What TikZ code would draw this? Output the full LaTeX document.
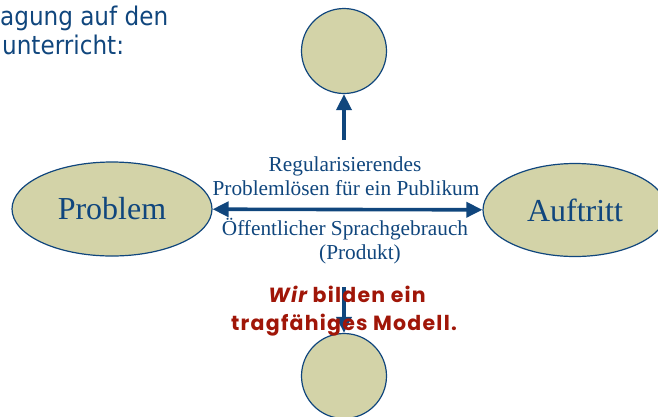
\documentclass[tikz,border=0pt]{standalone}
\usepackage{fontspec}
\setmainfont{Liberation Serif}
\newfontfamily\titelfont{DejaVu Sans Condensed}
\newfontfamily\handfont[LetterSpace=6]{Poppins}
\usetikzlibrary{shapes.geometric, arrows.meta, positioning, calc}
\definecolor{dunkelblau}{RGB}{16,70,125}
\definecolor{oliv}{RGB}{211,211,168}
\definecolor{rotbraun}{RGB}{160,22,8}

\begin{document}
\begin{tikzpicture}[x=1bp, y=-1bp,
  >={Triangle[length=16bp,width=15bp]},
  blob/.style={ellipse, draw=dunkelblau, line width=1.2bp, fill=oliv, text=dunkelblau, inner sep=0pt, font=\fontsize{32bp}{36bp}\selectfont},
  kreis/.style={circle, draw=dunkelblau, line width=1.2bp, fill=oliv, minimum size=85bp, inner sep=0pt},
  pfeil/.style={line width=3.6bp, dunkelblau},
  zeile/.style={anchor=base, inner sep=0pt, text=dunkelblau, font=\fontsize{21.3bp}{24bp}\selectfont},
  titel/.style={anchor=base west, inner sep=0pt, text=dunkelblau, font=\titelfont\fontsize{25.7bp}{28bp}\selectfont},
  merke/.style={anchor=base, inner sep=0pt, text=rotbraun, font=\handfont\bfseries\fontsize{20.5bp}{24bp}\selectfont}]
\useasboundingbox (0,0) rectangle (658,416);

% Ueberschrift (angeschnitten)
\node[titel] (t1) at (0,25) {agung auf den};
\node[titel] (t2) at (2,54) {unterricht:};

% Knoten
\node[blob, minimum width=200bp, minimum height=94bp] (prob) at (112,209) {Problem};
\node[blob, minimum width=184bp, minimum height=93bp] (auf) at (575,210) {Auftritt};
\node[kreis] (oben) at (344,51) {};
\node[kreis] (unten) at (344,376) {};

% Pfeile
\coordinate (o0) at (344,140);
\coordinate (u0) at (344,287);
\draw[pfeil, <->] (prob) -- (auf);
\draw[pfeil, ->] (o0) -- (oben);
\draw[pfeil, ->] (u0) -- (unten);

% Beschriftung
\node[zeile] (l1) at (345,171) {Regularisierendes};
\node[zeile] (l2) at (346,195) {Problemlösen für ein Publikum};
\node[zeile] (l3) at (345,235) {Öffentlicher Sprachgebrauch};
\node[zeile] (l4) at (360,259) {(Produkt)};

\node[merke] (m1) at (347,302) {\itshape Wir\upshape{} bilden ein};
\node[merke] (m2) at (344,330) {tragfähiges Modell.};
\end{tikzpicture}
\end{document}
